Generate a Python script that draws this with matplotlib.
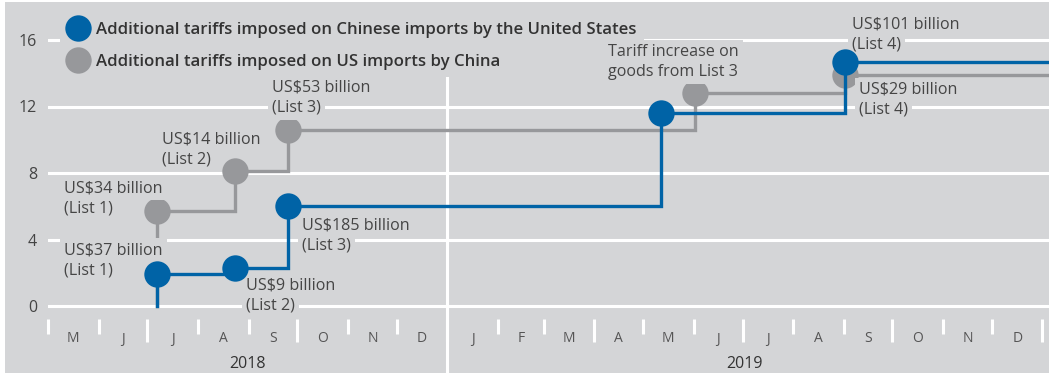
import pandas as pd
import matplotlib.pyplot as plt
from matplotlib.lines import Line2D
from matplotlib.patches import Rectangle

plt.rcParams['font.family'] = ['Open Sans', 'DejaVu Sans']

# Additional tariffs imposed on Chinese imports by the United States
us_dates = pd.to_datetime(['2018-07-07', '2018-08-24', '2018-09-25', '2019-05-12', '2019-09-02'])
us_rate = [1.9, 2.3, 6.0, 11.6, 14.7]
us_labels = ['US$37 billion\n(List 1)', 'US$9 billion\n(List 2)', 'US$185 billion\n(List 3)',
             '', 'US$101 billion\n(List 4)']

# Additional tariffs imposed on US imports by China
cn_dates = pd.to_datetime(['2018-07-07', '2018-08-24', '2018-09-25', '2019-06-02', '2019-09-02'])
cn_rate = [5.7, 8.1, 10.6, 12.8, 13.9]
cn_labels = ['US$34 billion\n(List 1)', 'US$14 billion\n(List 2)', 'US$53 billion\n(List 3)',
             'Tariff increase on\ngoods from List 3', 'US$29 billion\n(List 4)']

month_letters = ['M', 'J', 'J', 'A', 'S', 'O', 'N', 'D',
                 'J', 'F', 'M', 'A', 'M', 'J', 'J', 'A', 'S', 'O', 'N', 'D']
years = ['2018', '2019']
y_ticks = [0, 4, 8, 12, 16]

# label offsets from their point (pixels, left edge / first line centre)
us_offsets = [(-93, 24), (11, -18), (14, -19), None, (7, 37)]
cn_offsets = [(-93, 23), (-73, 32), (-16, 42), (-87, 41), (14, -15)]

bg = '#d4d5d7'
blue = '#0063a6'
grey = '#97989b'
W, H = 1049, 373

fig = plt.figure(figsize=(W / 100, H / 100), dpi=100, facecolor='white')
fig.patches.append(Rectangle((5 / W, 0), 1, (H - 2) / H, transform=fig.transFigure,
                             facecolor=bg, edgecolor='none', zorder=-10))

ax = fig.add_axes([48 / W, (H - 319) / H, 1 - 48 / W, 319 / H])
ax.set_facecolor('none')
for s in ax.spines.values():
    s.set_visible(False)

x_start = pd.Timestamp('2018-05-01')
x_end = pd.Timestamp('2020-01-05')
ax.set_xlim(x_start, x_end)
ax.set_ylim(-13 / 16.625, 319 / 16.625 - 13 / 16.625)

# horizontal grid
ax.set_yticks(y_ticks)
ax.tick_params(axis='y', length=0, pad=8, labelsize=11.5, labelcolor='#444444')
for v in y_ticks:
    ax.axhline(v, color='white', lw=2.2, zorder=1)

# month boundaries: quarters get longer marks
month_starts = pd.date_range('2018-05-01', '2020-01-01', freq='MS')
quarters = [d for d in month_starts if d.month in (1, 4, 7, 10)]
others = [d for d in month_starts if d.month not in (1, 4, 7, 10)]
ax.set_xticks(quarters)
ax.set_xticks(others, minor=True)
ax.tick_params(axis='x', which='major', length=16.6, width=2.2, color='white', labelbottom=False)
ax.tick_params(axis='x', which='minor', length=10.8, width=2.2, color='white', labelbottom=False)

xt = ax.get_xaxis_transform()
for i, letter in enumerate(month_letters):
    mid = month_starts[i] + (month_starts[i + 1] - month_starts[i]) / 2
    ax.text(mid, -20 / 319, letter, transform=xt, ha='center', va='center',
            fontsize=10, color='#555555')
for i, yr in enumerate(years):
    a = pd.Timestamp(f'{yr}-01-01') if i else x_start
    b = pd.Timestamp(f'{int(yr) + 1}-01-01')
    ax.text(a + (b - a) / 2, -45 / 319, yr, transform=xt, ha='center', va='center',
            fontsize=11.5, color='#333333')

# year divider, running from below the legend to the bottom edge
ax.plot([pd.Timestamp('2019-01-01')] * 2, [241 / 319, -54 / 319], transform=xt, color='white',
        lw=2.2, clip_on=False, zorder=1)


def step_line(dates, rates, color, z):
    xs = [dates[0]] + list(dates) + [x_end]
    ys = [0] + list(rates) + [rates[-1]]
    ax.step(xs, ys, where='post', color=color, lw=2.4, zorder=z, solid_joinstyle='miter')
    ax.plot(dates, rates, ls='', marker='o', ms=19, mfc=color, mec=color, mew=0, zorder=z + 0.5)


def add_labels(dates, rates, labels, offsets):
    for d, r, lab, off in zip(dates, rates, labels, offsets):
        if off is None:
            continue
        for k, line in enumerate(lab.split('\n')):
            ax.annotate(line, (d, r), xytext=(off[0], off[1] - 20 * k), textcoords='offset pixels',
                        ha='left', va='center', fontsize=11.6, color='#454545', zorder=4,
                        bbox=dict(boxstyle='square,pad=0.25', fc=bg, ec='none'))


step_line(cn_dates, cn_rate, grey, 2)
add_labels(cn_dates, cn_rate, cn_labels, cn_offsets)
add_labels(us_dates, us_rate, us_labels, us_offsets)
step_line(us_dates, us_rate, blue, 5)

handles = [Line2D([], [], ls='', marker='o', ms=19, mfc=c, mec=c, mew=0) for c in (blue, grey)]
leg = ax.legend(handles, ['Additional tariffs imposed on Chinese imports by the United States',
                          'Additional tariffs imposed on US imports by China'],
                loc='upper left', bbox_to_anchor=(60 / W, 1 - 14 / H), bbox_transform=fig.transFigure,
                frameon=True, facecolor=bg, edgecolor='none', framealpha=1, fancybox=False,
                borderpad=0.45, borderaxespad=0, handlelength=1.2, handletextpad=0.5,
                labelspacing=0.96, prop=dict(weight='semibold', size=12.1))
for t in leg.get_texts():
    t.set_color('#333333')
leg.set_zorder(3.5)

fig.savefig('out.png', dpi=100, facecolor=fig.get_facecolor())
